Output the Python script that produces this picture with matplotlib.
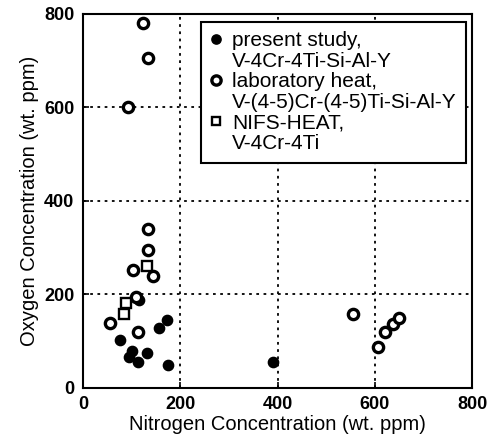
import matplotlib
matplotlib.use('Agg')
import matplotlib.pyplot as plt
from matplotlib.lines import Line2D

plt.rcParams['font.family'] = ['Liberation Sans', 'DejaVu Sans']

# present study, V-4Cr-4Ti-Si-Al-Y (vyplnene kruhy)
n_present = [76, 100, 95, 114, 132, 157, 172, 174, 115, 390]
o_present = [103, 80, 67, 55, 75, 129, 145, 50, 188, 55]

# laboratory heat (prazdne kruhy)
n_lab = [123, 133, 93, 134, 134, 103, 145, 110, 56, 114, 556, 607, 621, 638, 650]
o_lab = [780, 705, 600, 341, 295, 252, 239, 195, 139, 120, 159, 88, 120, 137, 150]

# NIFS-HEAT (prazdne stvorce)
n_nifs = [88, 84, 132]
o_nifs = [182, 159, 261]

tiky = [0, 200, 400, 600, 800]

fig = plt.figure(figsize=(4.96, 4.48), dpi=100)
ax = fig.add_axes([0.167, 0.134, 0.785, 0.835])

h1, = ax.plot(n_present, o_present, 'o', ms=7.4, mfc='black', mec='black', mew=1)
h2, = ax.plot(n_lab, o_lab, 'o', ms=7.4, mfc='white', mec='black', mew=2.4)
h3, = ax.plot(n_nifs, o_nifs, 's', ms=6.8, mfc='white', mec='black', mew=1.7)

ax.set_xlim(0, 800)
ax.set_ylim(0, 800)
ax.set_xticks(tiky)
ax.set_yticks(tiky)
ax.tick_params(direction='in', length=4, width=1.2, labelsize=13, pad=6)
for lbl in ax.get_xticklabels() + ax.get_yticklabels():
    lbl.set_fontweight('bold')
ax.grid(True, color='black', linestyle=(0, (1.5, 2.5)), linewidth=1.3)
for s in ax.spines.values():
    s.set_linewidth(1.5)

ax.set_xlabel('Nitrogen Concentration (wt. ppm)', fontsize=14.5, labelpad=1)
ax.set_ylabel('Oxygen Concentration (wt. ppm)', fontsize=14.5, labelpad=4)

# legenda: znacka pri prvom riadku, druhy riadok bez znacky
prazdna = Line2D([], [], linestyle='none', marker=None)
handles = [h1, prazdna, h2, prazdna, h3, prazdna]
labels = ['present study,', 'V-4Cr-4Ti-Si-Al-Y',
          'laboratory heat,', 'V-(4-5)Cr-(4-5)Ti-Si-Al-Y',
          'NIFS-HEAT,', 'V-4Cr-4Ti']
leg = ax.legend(handles, labels, loc='upper left', bbox_to_anchor=(0.303, 0.979),
                fontsize=15, frameon=True, fancybox=False, framealpha=1,
                edgecolor='black', handletextpad=0.45, handlelength=0.6,
                borderpad=0.45, labelspacing=0.08, borderaxespad=0,
                markerscale=0.9)
leg.get_frame().set_linewidth(1.5)

fig.savefig('out.png', dpi=100)
